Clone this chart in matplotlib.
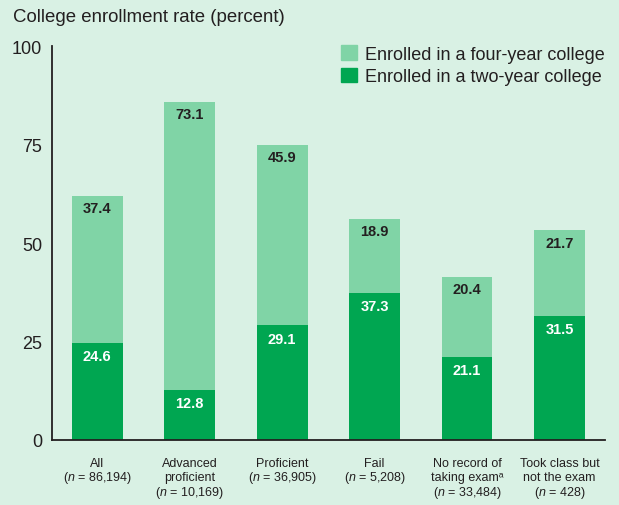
import matplotlib
matplotlib.use("Agg")
import matplotlib.pyplot as plt
from matplotlib.patches import Patch

# data
category_lines = [
    ["All", "($n$ = 86,194)"],
    ["Advanced", "proficient", "($n$ = 10,169)"],
    ["Proficient", "($n$ = 36,905)"],
    ["Fail", "($n$ = 5,208)"],
    ["No record of", "taking examᵃ", "($n$ = 33,484)"],
    ["Took class but", "not the exam", "($n$ = 428)"],
]
two_year = [24.6, 12.8, 29.1, 37.3, 21.1, 31.5]
four_year = [37.4, 73.1, 45.9, 18.9, 20.4, 21.7]
yticks = [0, 25, 50, 75, 100]

BG = "#d9f1e4"
LIGHT = "#80d4a6"
DARK = "#00a651"
INK = "#231f20"

plt.rcParams["font.family"] = ["Liberation Sans", "DejaVu Sans"]
plt.rcParams["mathtext.fontset"] = "custom"
plt.rcParams["mathtext.rm"] = "Liberation Sans"
plt.rcParams["mathtext.it"] = "Liberation Sans:italic"

fig = plt.figure(figsize=(6.19, 5.06), dpi=100, facecolor=BG)
ax = fig.add_axes([0.084, 0.1285, 0.893, 0.7785], facecolor=BG)

x = list(range(len(category_lines)))
width = 0.55

ax.bar(x, two_year, width, color=DARK)
ax.bar(x, four_year, width, bottom=two_year, color=LIGHT)

# value labels near the top of each segment
for i in x:
    ax.annotate(f"{two_year[i]:.1f}", (i, two_year[i]), xytext=(0, -9.5),
                textcoords="offset points", ha="center", va="center",
                color="white", fontsize=10.5, fontweight="bold")
    ax.annotate(f"{four_year[i]:.1f}", (i, two_year[i] + four_year[i]),
                xytext=(0, -9), textcoords="offset points", ha="center",
                va="center", color=INK, fontsize=10.5, fontweight="bold")

# category labels, one line at a time so the spacing stays even
for i, lines in zip(x, category_lines):
    for j, line in enumerate(lines):
        ax.annotate(line, (i, 0), xycoords=("data", "axes fraction"),
                    xytext=(0, -18.4 - 10.45 * j), textcoords="offset points",
                    ha="center", va="baseline", fontsize=9, color=INK)

ax.set_xlim(-0.49, 5.49)
ax.set_ylim(0, 100)
ax.set_yticks(yticks)
ax.set_yticklabels([str(t) for t in yticks], fontsize=13, color=INK)
ax.set_xticks([])
ax.tick_params(axis="both", length=0)
ax.tick_params(axis="y", pad=7)

for s in ["top", "right"]:
    ax.spines[s].set_visible(False)
for s in ["left", "bottom"]:
    ax.spines[s].set_color(INK)
    ax.spines[s].set_linewidth(1.3)

fig.text(0.021, 0.965, "College enrollment rate (percent)", fontsize=13.4,
         color=INK, va="center", ha="left")

handles = [Patch(color=LIGHT), Patch(color=DARK)]
ax.legend(handles, ["Enrolled in a four-year college", "Enrolled in a two-year college"],
          loc="upper right", bbox_to_anchor=(1.0, 1.002), frameon=False,
          fontsize=13, handlelength=0.88, handleheight=0.88, handletextpad=0.45,
          labelspacing=0.26, labelcolor=INK, borderpad=0, borderaxespad=0)

fig.savefig("out.png", dpi=100, facecolor=BG)
